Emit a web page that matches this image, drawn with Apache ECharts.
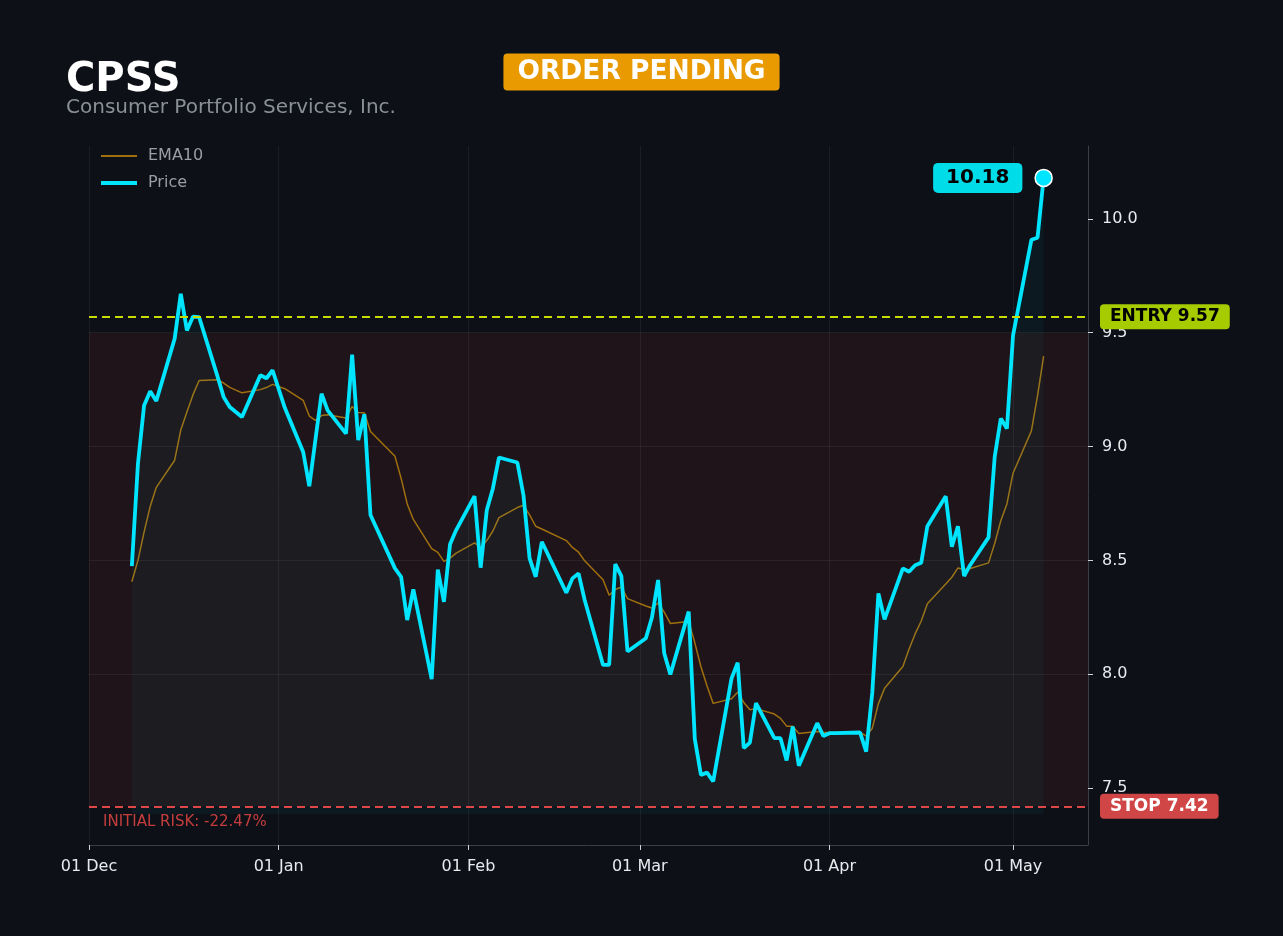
<!DOCTYPE html>
<html>
<head>
<meta charset="utf-8">
<title>CPSS</title>
<script src="https://cdn.jsdelivr.net/npm/echarts@6/dist/echarts.min.js"></script>
<style>
    html, body { margin: 0; padding: 0; background: #0d1117; }
    #chart { width: 1283px; height: 936px; }
</style>
</head>
<body>
<div id="chart"></div>
<script>
// trading days
var dates = [
    '2025-12-08','2025-12-09','2025-12-10','2025-12-11','2025-12-12','2025-12-15','2025-12-16','2025-12-17','2025-12-18','2025-12-19',
    '2025-12-22','2025-12-23','2025-12-24','2025-12-26','2025-12-29','2025-12-30','2025-12-31',
    '2026-01-02','2026-01-05','2026-01-06','2026-01-07','2026-01-08','2026-01-09','2026-01-12','2026-01-13','2026-01-14','2026-01-15',
    '2026-01-16','2026-01-20','2026-01-21','2026-01-22','2026-01-23','2026-01-26','2026-01-27','2026-01-28','2026-01-29','2026-01-30',
    '2026-02-02','2026-02-03','2026-02-04','2026-02-05','2026-02-06','2026-02-09','2026-02-10','2026-02-11','2026-02-12','2026-02-13',
    '2026-02-17','2026-02-18','2026-02-19','2026-02-20','2026-02-23','2026-02-24','2026-02-25','2026-02-26','2026-02-27',
    '2026-03-02','2026-03-03','2026-03-04','2026-03-05','2026-03-06','2026-03-09','2026-03-10','2026-03-11','2026-03-12','2026-03-13',
    '2026-03-16','2026-03-17','2026-03-18','2026-03-19','2026-03-20','2026-03-23','2026-03-24','2026-03-25','2026-03-26','2026-03-27',
    '2026-03-30','2026-03-31',
    '2026-04-01','2026-04-02','2026-04-06','2026-04-07','2026-04-08','2026-04-09','2026-04-10','2026-04-13','2026-04-14','2026-04-15',
    '2026-04-16','2026-04-17','2026-04-20','2026-04-21','2026-04-22','2026-04-23','2026-04-24','2026-04-27','2026-04-28','2026-04-29',
    '2026-04-30',
    '2026-05-01','2026-05-04','2026-05-05','2026-05-06'
];

var price = [
    8.475, 8.925, 9.18, 9.243, 9.20, 9.474, 9.671, 9.51, 9.571, 9.568,
    9.308, 9.218, 9.174, 9.13, 9.313, 9.30, 9.335,
    9.17, 8.976, 8.826, 9.03, 9.232, 9.159, 9.057, 9.404, 9.028, 9.142,
    8.699, 8.465, 8.428, 8.238, 8.373, 7.978, 8.46, 8.318, 8.571, 8.633,
    8.782, 8.468, 8.72, 8.816, 8.952, 8.93, 8.786, 8.509, 8.428, 8.582,
    8.358, 8.421, 8.443, 8.326, 8.041, 8.041, 8.484, 8.431, 8.10,
    8.158, 8.25, 8.414, 8.092, 7.999, 8.275, 7.715, 7.558, 7.568, 7.529,
    7.982, 8.051, 7.675, 7.70, 7.873, 7.719, 7.719, 7.621, 7.77, 7.598,
    7.785, 7.729,
    7.741, 7.741, 7.744, 7.66, 7.92, 8.355, 8.241, 8.465, 8.45, 8.479,
    8.49, 8.65, 8.782, 8.56, 8.65, 8.431, 8.48, 8.601, 8.954, 9.123,
    9.079,
    9.488, 9.908, 9.917, 10.18
];

var ema10 = [
    8.406, 8.50, 8.624, 8.737, 8.821, 8.94, 9.073, 9.152, 9.228, 9.29,
    9.293, 9.279, 9.26, 9.236, 9.25, 9.259, 9.273,
    9.254, 9.203, 9.134, 9.115, 9.136, 9.14, 9.125, 9.176, 9.149, 9.148,
    9.066, 8.957, 8.861, 8.748, 8.68, 8.552, 8.535, 8.496, 8.51, 8.532,
    8.577, 8.557, 8.587, 8.629, 8.688, 8.732, 8.742, 8.70, 8.65, 8.638,
    8.587, 8.557, 8.536, 8.498, 8.415, 8.347, 8.372, 8.383, 8.332,
    8.30, 8.291, 8.313, 8.273, 8.223, 8.232, 8.138, 8.033, 7.948, 7.872,
    7.892, 7.921, 7.876, 7.844, 7.849, 7.825, 7.806, 7.772, 7.772, 7.74,
    7.748, 7.745,
    7.744, 7.744, 7.744, 7.729, 7.763, 7.871, 7.938, 8.034, 8.11, 8.177,
    8.234, 8.31, 8.396, 8.426, 8.467, 8.46, 8.464, 8.489, 8.574, 8.674,
    8.748,
    8.883, 9.069, 9.223, 9.397
];

var entryPrice = 9.57;
var stopPrice = 7.42;
var zoneTop = 9.5;
var monthTicks = ['2025-12-01', '2026-01-01', '2026-02-01', '2026-03-01', '2026-04-01', '2026-05-01'];
var priceTicks = [7.5, 8.0, 8.5, 9.0, 9.5, 10.0];
var monthNames = ['Jan','Feb','Mar','Apr','May','Jun','Jul','Aug','Sep','Oct','Nov','Dec'];

function toTime(s) {
    return new Date(s + 'T00:00:00').getTime();
}

var monthTickTimes = monthTicks.map(toTime);
var priceData = dates.map(function (d, i) { return [toTime(d), price[i]]; });
var emaData = dates.map(function (d, i) { return [toTime(d), ema10[i]]; });
var lastPoint = priceData[priceData.length - 1];
var riskPct = ((stopPrice - entryPrice) / entryPrice * 100).toFixed(2);

var myChart = echarts.init(document.getElementById('chart'));

var dashed = [8, 5];

var option = {
    backgroundColor: '#0d1117',
    animation: false,
    textStyle: { fontFamily: 'DejaVu Sans' },
    title: [
        {
            text: 'CPSS',
            subtext: 'Consumer Portfolio Services, Inc.',
            left: 61,
            top: 56,
            itemGap: -3,
            textStyle: { color: '#ffffff', fontSize: 40, fontWeight: 'bold', lineHeight: 40 },
            subtextStyle: { color: '#8b8f96', fontSize: 20 }
        },
        {
            text: 'ORDER PENDING',
            left: 'center',
            top: 54,
            padding: [5, 14],
            backgroundColor: '#e89a00',
            borderRadius: 4,
            textStyle: { color: '#ffffff', fontSize: 26.5, fontWeight: 'bold', lineHeight: 26 }
        }
    ],
    legend: {
        data: [
            { name: 'EMA10', icon: 'path://M0,0H36V2H0Z' },
            { name: 'Price', icon: 'path://M0,0H36V4H0Z' }
        ],
        orient: 'vertical',
        left: 96,
        top: 143,
        itemWidth: 36,
        itemHeight: 14,
        itemGap: 11,
        textStyle: { color: '#9a9ea4', fontSize: 16, padding: [0, 0, 0, 6] }
    },
    grid: { left: 89, right: 195, top: 146, bottom: 91 },
    xAxis: {
        type: 'value',
        min: toTime('2025-12-01'),
        max: new Date('2026-05-13T06:00:00').getTime(),
        axisLine: { show: true, onZero: false, lineStyle: { color: '#3a3f46' } },
        axisTick: { show: true, length: 5, lineStyle: { color: '#cfd3d8' }, customValues: monthTickTimes },
        axisLabel: {
            color: '#e8eaed',
            fontSize: 16,
            margin: 14,
            customValues: monthTickTimes,
            formatter: function (v) {
                var d = new Date(v);
                var day = d.getDate();
                return (day < 10 ? '0' + day : day) + ' ' + monthNames[d.getMonth()];
            }
        },
        splitLine: { show: true, lineStyle: { color: 'rgba(255,255,255,0.06)' }, customValues: monthTickTimes }
    },
    yAxis: {
        type: 'value',
        position: 'right',
        min: 7.25,
        max: 10.32,
        axisLine: { show: true, lineStyle: { color: '#3a3f46' } },
        axisTick: { show: true, length: 5, lineStyle: { color: '#cfd3d8' }, customValues: priceTicks },
        axisLabel: {
            color: '#e8eaed',
            fontSize: 16,
            margin: 14,
            customValues: priceTicks,
            formatter: function (v) { return v.toFixed(1); }
        },
        splitLine: {
            show: true,
            showMinLine: false,
            showMaxLine: false,
            lineStyle: { color: 'rgba(255,255,255,0.06)' },
            customValues: priceTicks
        }
    },
    series: [
        {
            name: 'EMA10',
            type: 'line',
            data: emaData,
            symbol: 'none',
            lineStyle: { color: '#a0700f', width: 1.5 },
            itemStyle: { color: '#a0700f' },
            z: 3
        },
        {
            name: 'Price',
            type: 'line',
            data: priceData,
            symbol: 'none',
            lineStyle: { color: '#00e5ff', width: 3.8 },
            itemStyle: { color: '#00e5ff' },
            areaStyle: { color: 'rgba(0,210,240,0.06)', origin: 7.385 },
            z: 4,
            markArea: {
                silent: true,
                itemStyle: { color: 'rgba(220,60,60,0.09)' },
                data: [[{ yAxis: stopPrice }, { yAxis: zoneTop }]]
            },
            markLine: {
                silent: true,
                symbol: ['none', 'none'],
                data: [
                    {
                        yAxis: entryPrice,
                        lineStyle: { color: '#c8dc00', type: dashed, width: 2 },
                        label: {
                            position: 'end',
                            distance: 12,
                            formatter: 'ENTRY ' + entryPrice.toFixed(2),
                            backgroundColor: '#a6cc00',
                            color: '#000000',
                            fontWeight: 'bold',
                            fontSize: 17,
                            padding: [4, 10],
                            borderRadius: 4
                        }
                    },
                    {
                        yAxis: stopPrice,
                        lineStyle: { color: '#e04848', type: dashed, width: 2 },
                        label: {
                            position: 'end',
                            distance: 12,
                            formatter: 'STOP ' + stopPrice.toFixed(2),
                            backgroundColor: '#d04545',
                            color: '#ffffff',
                            fontWeight: 'bold',
                            fontSize: 17,
                            padding: [4, 10],
                            borderRadius: 4
                        }
                    },
                    {
                        yAxis: stopPrice,
                        lineStyle: { color: '#e04848', type: dashed, width: 2 },
                        label: {
                            position: 'insideStartBottom',
                            distance: [14, 8],
                            formatter: 'INITIAL RISK: ' + riskPct + '%',
                            color: '#c43d3d',
                            fontSize: 15
                        }
                    }
                ]
            }
        },
        {
            name: 'Last',
            type: 'scatter',
            data: [lastPoint],
            symbol: 'circle',
            symbolSize: 17,
            itemStyle: { color: '#00e5ff', borderColor: '#ffffff', borderWidth: 1.5, opacity: 1 },
            z: 5,
            label: {
                show: true,
                position: 'left',
                distance: 12,
                formatter: function (p) { return p.value[1].toFixed(2); },
                backgroundColor: '#00dde8',
                color: '#000000',
                fontWeight: 'bold',
                fontSize: 20,
                padding: [5, 13],
                borderRadius: 5
            }
        }
    ]
};

myChart.setOption(option);
</script>
</body>
</html>
